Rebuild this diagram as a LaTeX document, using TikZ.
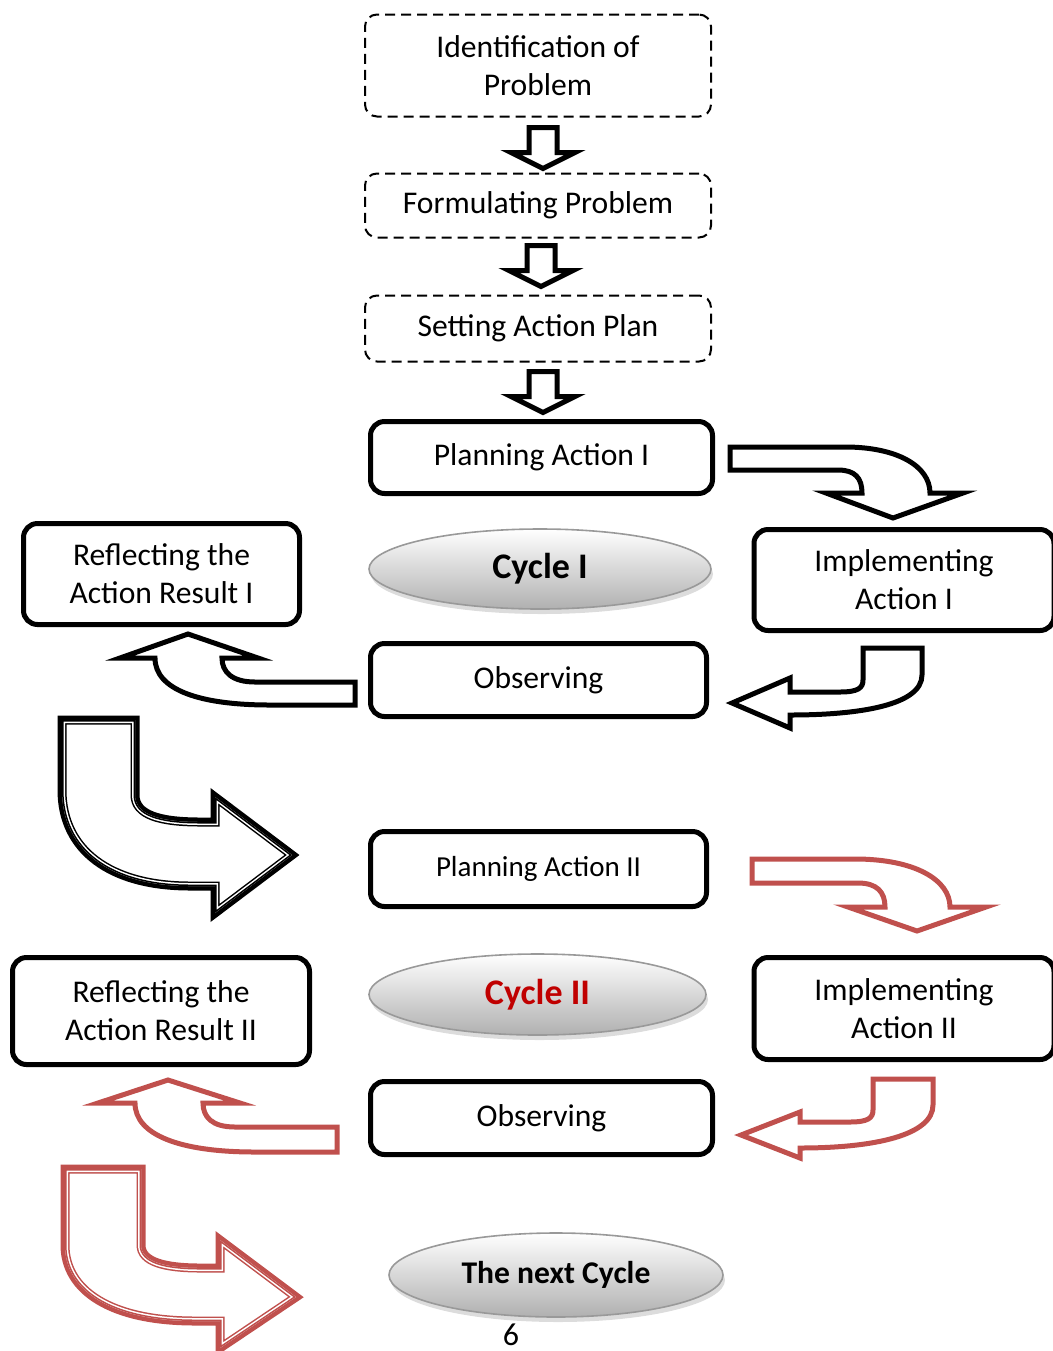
\documentclass[tikz,border=0pt]{standalone}
\usepackage{fontspec}
\setmainfont{Carlito}
\usetikzlibrary{shapes.geometric,shadows,calc}
\definecolor{accred}{HTML}{C0504D}
\definecolor{cycred}{HTML}{C00000}
\newcommand{\boxfont}{\fontsize{15.8}{19}\selectfont}
% straight block arrow pointing down, #1 = top centre
\newcommand{\dnarrow}[1]{\draw[blockarr] #1 ++(-14,0) -- ++(28,0) -- ++(0,25) -- ++(18,0) -- ++(-32,16) -- ++(-32,-16) -- ++(18,0) -- cycle;}
% thick outline with a thin inner line
\newcommand{\dblarrow}[2]{%
  \draw[#1,line width=4.5pt,fill=white] #2;
  \begin{scope}
    \clip #2;
    \draw[white,line width=3pt] #2;
    \draw[#1,line width=1.5pt] #2;
  \end{scope}}

\begin{document}
\begin{tikzpicture}[x=0.5pt,y=-0.5pt,
  dashbox/.style={draw,line width=1pt,dash pattern=on 5pt off 3pt,rounded corners=6pt,align=center,inner sep=0pt,minimum width=173pt,font=\boxfont},
  solidbox/.style={draw,line width=2.5pt,rounded corners=7pt,align=center,inner sep=0pt,font=\boxfont},
  cyclenode/.style={ellipse,draw=gray!80,line width=0.8pt,top color=white,bottom color=gray!62,inner sep=0pt,
    drop shadow={shadow xshift=1pt,shadow yshift=-2.5pt,fill=gray!55},font=\bfseries\fontsize{18}{20}\selectfont},
  blockarr/.style={draw=black,line width=2.5pt,fill=white,line join=miter},
  redarr/.style={draw=accred,line width=2.5pt,fill=white,line join=miter}
]
\useasboundingbox (0,0) rectangle (1053,1351);

% preparation
\node[dashbox,minimum height=51pt] (idp) at (538,65.5) {Identification of\\Problem};
\node[dashbox,minimum height=32pt] (form) at (538,205.5) {Formulating Problem};
\node[dashbox,minimum height=33pt] (plan) at (538,328.5) {Setting Action Plan};

% cycle I
\node[solidbox,minimum width=171pt,minimum height=36pt] (planI) at (541.5,457.5) {Planning Action I};
\node[solidbox,minimum width=138pt,minimum height=50.5pt] (reflI) at (161.5,574) {Reflecting the\\Action Result I};
\node[cyclenode,minimum width=171pt,minimum height=40pt] (cycI) at (540,569) {Cycle I};
\node[solidbox,minimum width=150pt,minimum height=50.5pt] (implI) at (904,580) {Implementing\\Action I};
\node[solidbox,minimum width=168pt,minimum height=36.5pt] (obsI) at (538.5,680) {Observing};

% cycle II
\node[solidbox,minimum width=168pt,minimum height=37.5pt,font=\fontsize{14.5}{17}\selectfont] (planII) at (538.5,869) {Planning Action II};
\node[solidbox,minimum width=148.5pt,minimum height=53.5pt] (reflII) at (161,1011) {Reflecting the\\Action Result II};
\node[cyclenode,minimum width=168.5pt,minimum height=40.5pt,text=cycred] (cycII) at (537.5,994.5) {Cycle II};
\node[solidbox,minimum width=150pt,minimum height=51pt] (implII) at (904,1008.5) {Implementing\\Action II};
\node[solidbox,minimum width=171pt,minimum height=36.5pt] (obsII) at (541.5,1118) {Observing};

\node[cyclenode,minimum width=167pt,minimum height=42pt,font=\bfseries\fontsize{15.8}{18}\selectfont] (next) at (556,1275) {The next Cycle};
\node[font=\fontsize{16}{18}\selectfont,inner sep=0pt,anchor=base] (page) at (511,1345) {6};

% straight arrows
\dnarrow{($(idp.south)+(5,10)$)}
\dnarrow{($(form.south)+(3,7)$)}
\dnarrow{($(plan.south)+(5,9)$)}

% curved arrows, cycle I
\draw[blockarr] (730,447) -- (845,447) .. controls (897,447) and (930,466) .. (930,493) -- (963,493) -- (893,518) -- (826,493) -- (862,493) .. controls (862,478) and (855,470) .. (838,470) -- (730,470) -- cycle;
\draw[blockarr] (863,648) -- (922,648) -- (922,675) .. controls (922,705) and (860,715) .. (790,715) -- (790,728) -- (732,703) -- (790,678) -- (790,692) -- (840,692) .. controls (858,692) and (863,688) .. (863,680) -- cycle;
\draw[blockarr] (355,682) -- (255,682) .. controls (232,682) and (222,672) .. (222,658) -- (258,658) -- (188,634) -- (120,658) -- (155,658) .. controls (155,690) and (200,705) .. (270,705) -- (355,705) -- cycle;
\dblarrow{black}{(62,720) -- (135,720) -- (135,795) .. controls (135,815) and (160,822) .. (200,822) -- (215,822) -- (215,797) -- (292,855) -- (215,913) -- (215,886) -- (190,886) .. controls (110,886) and (62,850) .. (62,790) -- cycle}

% curved arrows, cycle II
\draw[redarr] (752,859) -- (855,859) .. controls (915,859) and (950,880) .. (950,907) -- (986,907) -- (917,931) -- (848,907) -- (885,907) .. controls (885,892) and (877,883) .. (858,883) -- (752,883) -- cycle;
\draw[redarr] (873,1079) -- (933,1079) -- (933,1105) .. controls (933,1135) and (875,1148) .. (800,1148) -- (800,1158) -- (741,1135) -- (800,1112) -- (800,1122) -- (850,1122) .. controls (868,1122) and (873,1118) .. (873,1110) -- cycle;
\draw[redarr] (337,1127) -- (235,1127) .. controls (212,1127) and (203,1117) .. (203,1103) -- (240,1103) -- (168,1080) -- (98,1103) -- (135,1103) .. controls (135,1135) and (180,1152) .. (255,1152) -- (337,1152) -- cycle;
\dblarrow{accred}{(65,1169) -- (141,1169) -- (141,1245) .. controls (141,1262) and (165,1268) .. (200,1268) -- (220,1268) -- (220,1240) -- (296,1297) -- (220,1348) -- (220,1321) -- (195,1321) .. controls (110,1321) and (65,1290) .. (65,1245) -- cycle}
\end{tikzpicture}
\end{document}
